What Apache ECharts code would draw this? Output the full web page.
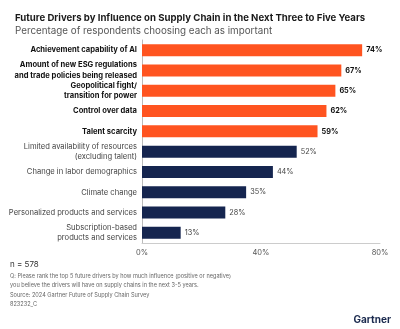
<!DOCTYPE html>
<html><head><meta charset="utf-8">
<script src="https://cdn.jsdelivr.net/npm/echarts@6/dist/echarts.min.js"></script>
<style>html,body{margin:0;padding:0;background:#fff}#c{width:400px;height:329px}</style>
</head><body><div id="c"></div>
<script>
const categories = [
  "Achievement capability of AI",
  "Amount of new ESG regulations\nand trade policies being released",
  "Geopolitical fight/\ntransition for power",
  "Control over data",
  "Talent scarcity",
  "Limited availability of resources\n(excluding talent)",
  "Change in labor demographics",
  "Climate change",
  "Personalized products and services",
  "Subscription-based\nproducts and services"
];
const values = [74, 67, 65, 62, 59, 52, 44, 35, 28, 13];
const highlighted = [true, true, true, true, true, false, false, false, false, false];
const tickLabels = ["0%", "40%", "80%"];

const FONT = "Inter, 'Noto Sans', sans-serif";
const ORANGE = "#FF5420";
const NAVY = "#15254F";

const chart = echarts.init(document.getElementById('c'), null, {renderer: 'canvas'});
chart.setOption({
  animation: false,
  textStyle: {fontFamily: FONT},
  title: [
    {text: "Future Drivers by Influence on Supply Chain in the Next Three to Five Years", left: 10, top: 8,
     textStyle: {fontSize: 9.6, fontWeight: 'bold', color: '#1a1a1a', fontFamily: FONT}},
    {text: "Percentage of respondents choosing each as important", left: 10, top: 21,
     textStyle: {fontSize: 9.8, fontWeight: 'normal', color: '#555', fontFamily: FONT}}
  ],
  grid: {left: 142, right: 20, top: 40, height: 203, containLabel: false},
  xAxis: {
    type: 'value', min: 0, max: 80, interval: 40,
    axisLine: {show: true, lineStyle: {color: '#ccc', width: 1}},
    axisTick: {show: false},
    splitLine: {show: false},
    axisLabel: {formatter: v => tickLabels[v / 40], color: '#555', fontSize: 7.5, margin: 6, fontFamily: FONT}
  },
  yAxis: {
    type: 'category', inverse: true, data: categories,
    axisLine: {show: true, lineStyle: {color: '#bbb', width: 1}},
    axisTick: {show: false},
    axisLabel: {
      margin: 5, align: 'right', lineHeight: 10.5,
      formatter: (v, i) => highlighted[i] ? '{b|' + v.split('\n').join('}\n{b|') + '}' : '{n|' + v.split('\n').join('}\n{n|') + '}',
      rich: {
        b: {fontSize: 7.6, fontWeight: 'bold', color: '#111', lineHeight: 10.5, fontFamily: FONT},
        n: {fontSize: 7.6, fontWeight: 'normal', color: '#444', lineHeight: 10.5, fontFamily: FONT}
      }
    }
  },
  series: [{
    type: 'bar', barWidth: 12,
    data: values.map((v, i) => ({
      value: v,
      itemStyle: {color: highlighted[i] ? ORANGE : NAVY},
      label: {show: true, position: 'right', distance: 4, formatter: '{c}%',
        fontSize: 7.3, fontFamily: FONT,
        fontWeight: highlighted[i] ? 'bold' : 'normal',
        color: highlighted[i] ? '#111' : '#444'}
    }))
  }],
  graphic: [
    {type: 'text', left: 10, top: 261, style: {text: 'n = 578', fontSize: 8, fill: '#333', fontFamily: FONT}},
    {type: 'text', left: 10, top: 272, style: {text: 'Q: Please rank the top 5 future drivers by how much influence (positive or negative)\nyou believe the drivers will have on supply chains in the next 3-5 years.', fontSize: 5.6, lineHeight: 9, fill: '#666', fontFamily: FONT}},
    {type: 'text', left: 10, top: 292, style: {text: 'Source: 2024 Gartner Future of Supply Chain Survey', fontSize: 5.6, fill: '#666', fontFamily: FONT}},
    {type: 'text', left: 10, top: 301, style: {text: '823232_C', fontSize: 5.6, fill: '#666', fontFamily: FONT}},
    {type: 'text', right: 9, top: 315, style: {text: 'Gartner', fontSize: 10, fontWeight: 'bold', fill: '#1b2a4e', fontFamily: FONT}}
  ]
});
</script></body></html>
